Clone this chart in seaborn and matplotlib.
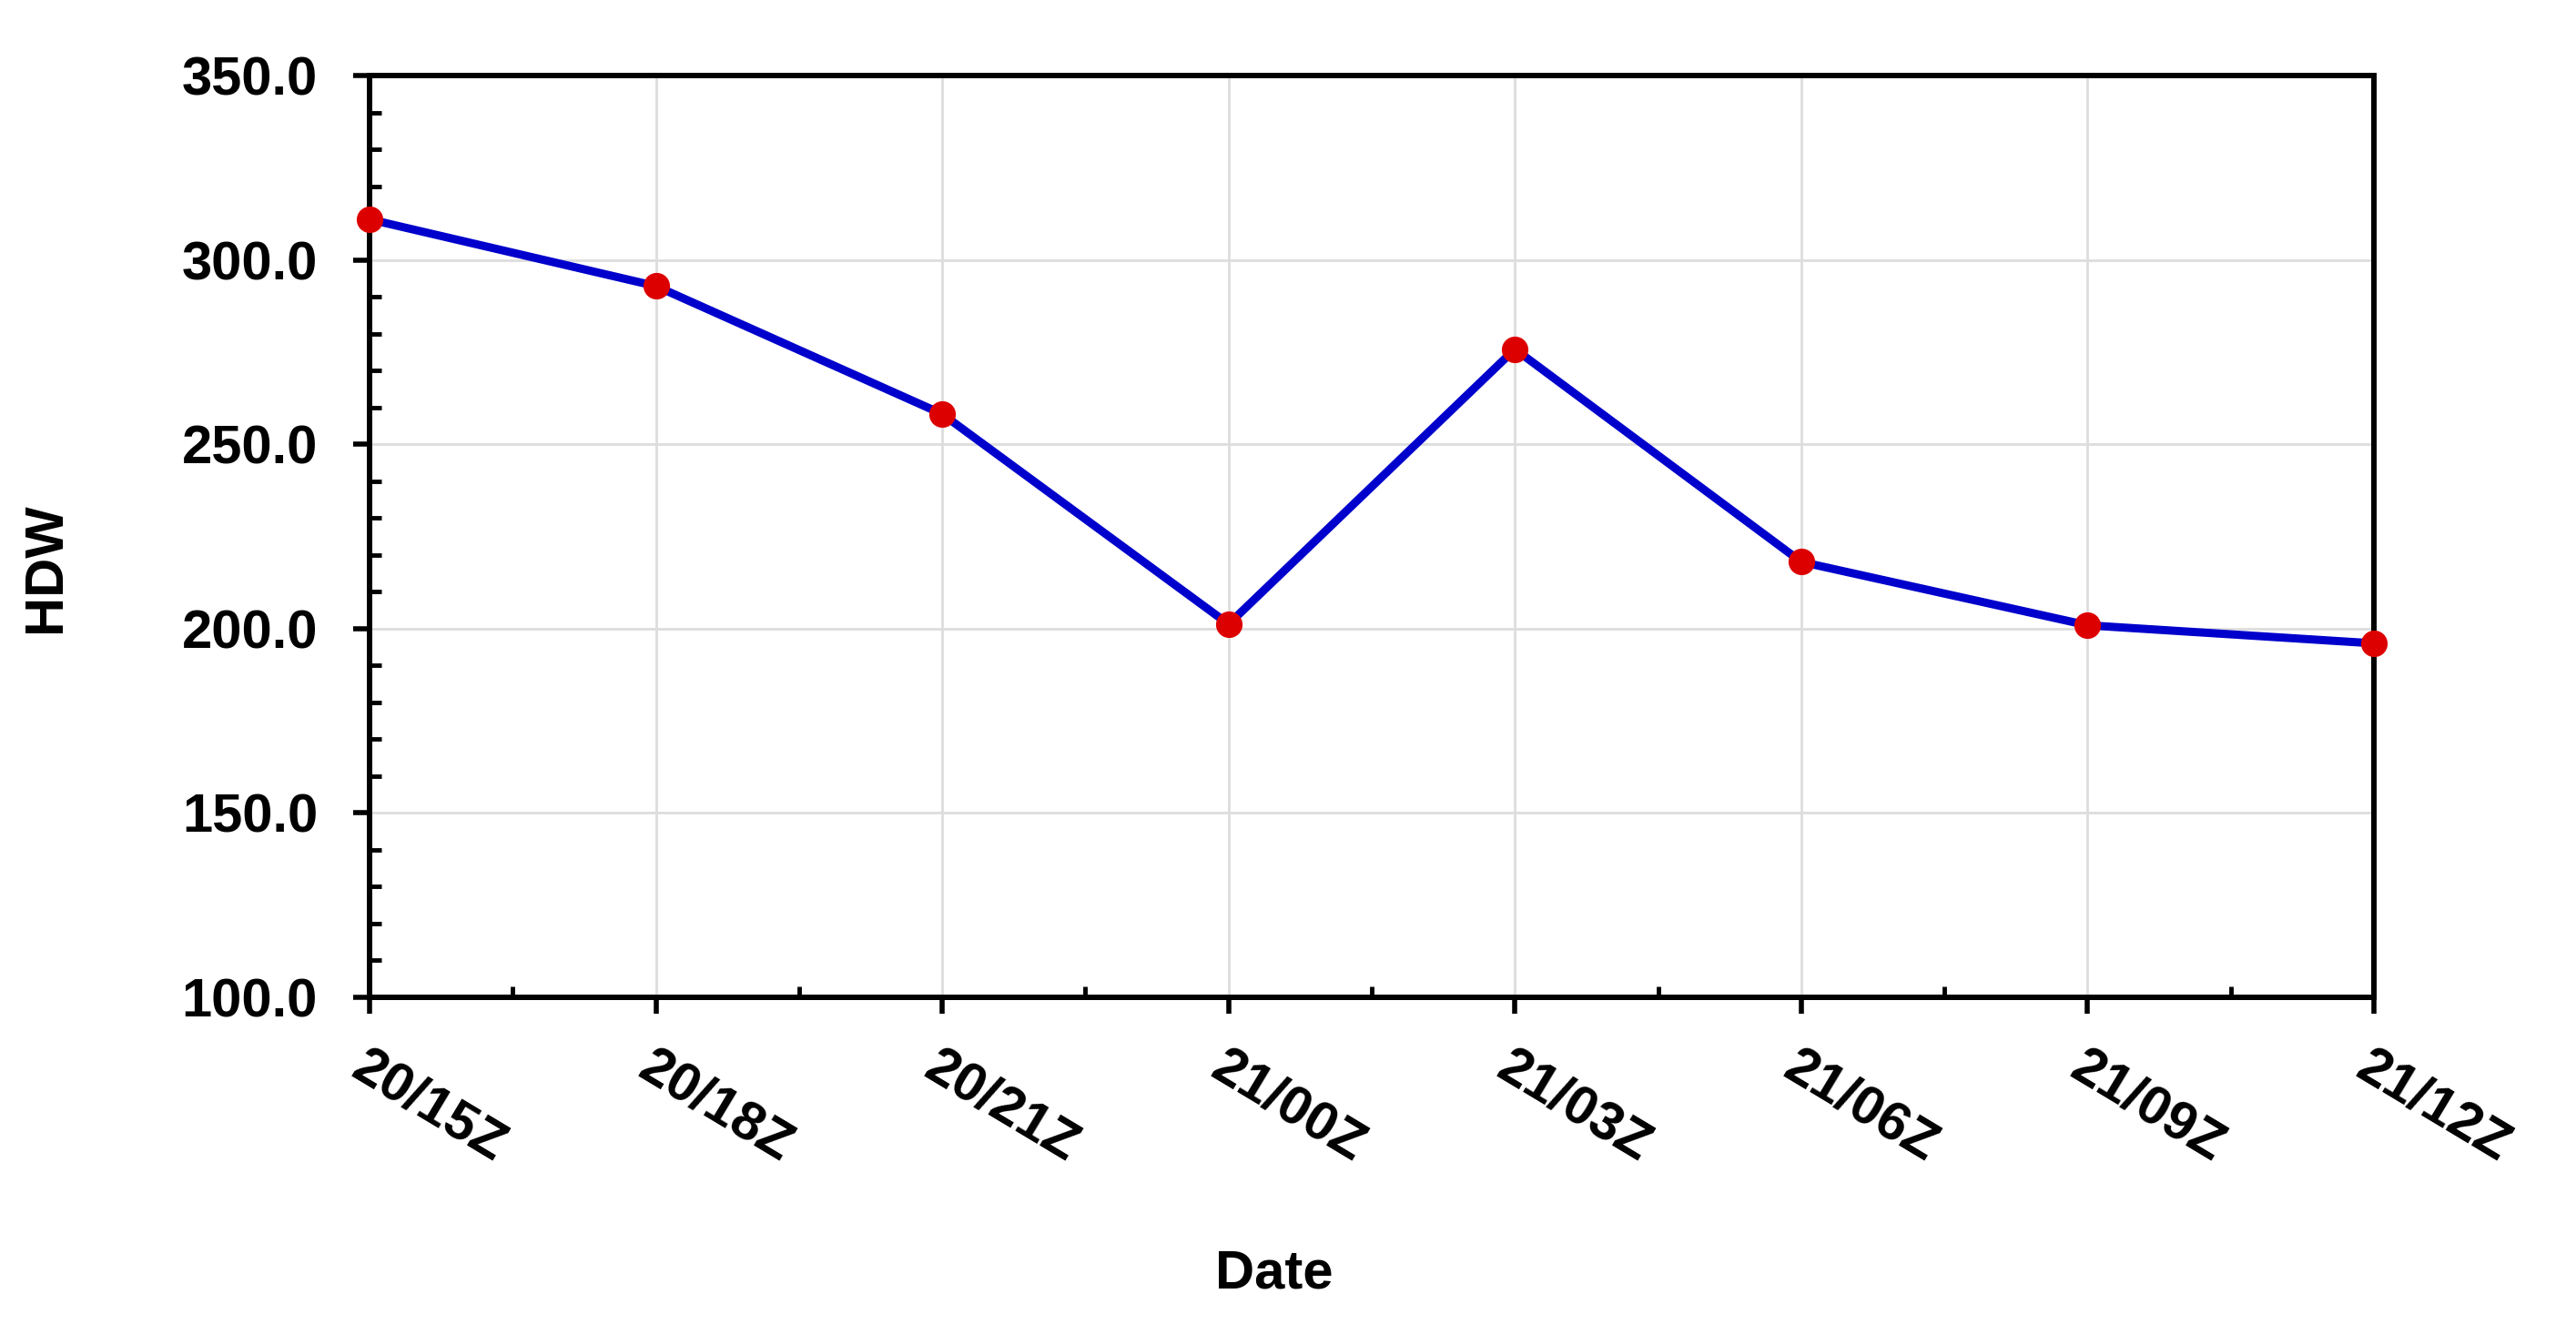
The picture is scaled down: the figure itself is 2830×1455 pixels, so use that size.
import matplotlib
matplotlib.use('Agg')
import matplotlib.pyplot as plt
import seaborn as sns
import pandas as pd
from matplotlib.ticker import MultipleLocator, FormatStrFormatter

dates = ["20/15Z", "20/18Z", "20/21Z", "21/00Z", "21/03Z", "21/06Z", "21/09Z", "21/12Z"]
hdw = [311.0, 292.9, 258.2, 201.2, 275.8, 218.1, 200.9, 196.0]

sns.set_theme(style='white')
plt.rcParams['font.family'] = ['Liberation Sans', 'DejaVu Sans']
plt.rcParams['font.weight'] = 'bold'
plt.rcParams['text.color'] = 'black'
plt.rcParams['axes.labelcolor'] = 'black'
plt.rcParams['xtick.color'] = 'black'
plt.rcParams['ytick.color'] = 'black'

W, H = 2830, 1455
fig = plt.figure(figsize=(W / 100, H / 100), dpi=100)
L, R, T, B = 406, 2608, 83, 1096
ax = fig.add_axes([L / W, 1 - B / H, (R - L) / W, (B - T) / H])

df = pd.DataFrame({'pos': list(range(len(dates))), 'HDW': hdw})
sns.lineplot(data=df, x='pos', y='HDW', ax=ax, color='#0000CC', linewidth=6.5,
             marker='o', markersize=21, markerfacecolor='#DD0000',
             markeredgecolor='#DD0000', markeredgewidth=0, zorder=3, clip_on=False)

ax.set_xlim(0, len(dates) - 1)
ax.set_ylim(100, 350)
ax.set_xticks(range(len(dates)))
ax.set_xticklabels(dates, rotation=-31, ha='left', va='top', rotation_mode='anchor')
ax.xaxis.set_minor_locator(MultipleLocator(0.5))
ax.yaxis.set_major_locator(MultipleLocator(50))
ax.yaxis.set_minor_locator(MultipleLocator(10))
ax.yaxis.set_major_formatter(FormatStrFormatter('%.1f'))

ax.grid(True, which='major', color='#DDDDDD', linewidth=2)
ax.set_axisbelow(True)

for s in ax.spines.values():
    s.set_visible(True)
    s.set_color('black')
    s.set_linewidth(4.3)

ax.tick_params(axis='both', which='major', direction='out', length=13, width=4,
               color='black', labelcolor='black', labelsize=43,
               bottom=True, left=True, top=False, right=False)
ax.tick_params(axis='both', which='minor', direction='in', length=9, width=3.5,
               color='black', bottom=True, left=True, top=False, right=False)
ax.tick_params(axis='y', which='major', pad=28)
ax.tick_params(axis='x', which='major', pad=22)
for lab in ax.get_xticklabels() + ax.get_yticklabels():
    lab.set_fontweight('bold')

ax.set_xlabel('Date', fontsize=43, fontweight='bold', color='black')
ax.set_ylabel('HDW', fontsize=43, fontweight='bold', color='black')
ax.xaxis.set_label_coords((1400 - L) / (R - L), (B - 1400) / (B - T))
ax.xaxis.label.set_va('center')
ax.yaxis.set_label_coords((50 - L) / (R - L), (B - 624) / (B - T))
ax.yaxis.label.set_va('center')

fig.savefig('out.png', dpi=100)
